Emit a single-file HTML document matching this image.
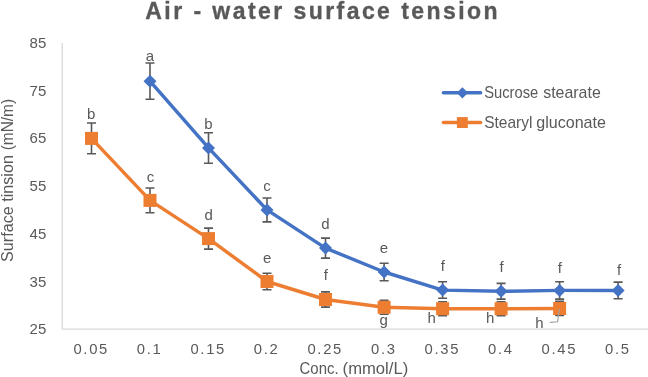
<!DOCTYPE html><html><head><meta charset="utf-8"><title>chart</title>
<style>html,body{margin:0;padding:0;background:#fff;}svg{display:block;will-change:transform;opacity:0.999}text{font-family:"Liberation Sans",sans-serif;fill:#595959}</style></head><body>
<svg width="648" height="377" viewBox="0 0 648 377">
<rect width="648" height="377" fill="#fff"/>
<path d="M62.2 43 V329.2 H648" fill="none" stroke="#D9D9D9" stroke-width="1.3"/>
<text x="145.3" y="18.5" font-size="23" font-weight="bold" letter-spacing="2.44" stroke="#595959" stroke-width="0.35">Air - water surface tension</text>
<text x="46.3" y="48.0" text-anchor="end" font-size="15">85</text>
<text x="46.3" y="95.7" text-anchor="end" font-size="15">75</text>
<text x="46.3" y="143.4" text-anchor="end" font-size="15">65</text>
<text x="46.3" y="191.1" text-anchor="end" font-size="15">55</text>
<text x="46.3" y="238.8" text-anchor="end" font-size="15">45</text>
<text x="46.3" y="286.5" text-anchor="end" font-size="15">35</text>
<text x="46.3" y="334.2" text-anchor="end" font-size="15">25</text>
<text x="91.2" y="354" text-anchor="middle" font-size="14.8" letter-spacing="1.7">0.05</text>
<text x="149.7" y="354" text-anchor="middle" font-size="14.8" letter-spacing="1.7">0.1</text>
<text x="208.2" y="354" text-anchor="middle" font-size="14.8" letter-spacing="1.7">0.15</text>
<text x="266.7" y="354" text-anchor="middle" font-size="14.8" letter-spacing="1.7">0.2</text>
<text x="325.2" y="354" text-anchor="middle" font-size="14.8" letter-spacing="1.7">0.25</text>
<text x="383.8" y="354" text-anchor="middle" font-size="14.8" letter-spacing="1.7">0.3</text>
<text x="442.3" y="354" text-anchor="middle" font-size="14.8" letter-spacing="1.7">0.35</text>
<text x="500.8" y="354" text-anchor="middle" font-size="14.8" letter-spacing="1.7">0.4</text>
<text x="559.3" y="354" text-anchor="middle" font-size="14.8" letter-spacing="1.7">0.45</text>
<text x="617.8" y="354" text-anchor="middle" font-size="14.8" letter-spacing="1.7">0.5</text>
<text x="299.6" y="373.5" font-size="15.8" textLength="39" lengthAdjust="spacingAndGlyphs">Conc.</text><text x="342.6" y="373.5" font-size="15.8" textLength="65.6" lengthAdjust="spacingAndGlyphs">(mmol/L)</text>
<g transform="translate(13.3,261.9) rotate(-90)"><text x="0" y="0" font-size="16" textLength="106.8" lengthAdjust="spacingAndGlyphs">Surface tinsion</text><text x="111.6" y="0" font-size="16" textLength="51.4" lengthAdjust="spacingAndGlyphs">(mN/m)</text></g>
<polyline points="150.0,81.2 208.5,147.9 267.0,209.9 325.5,248.1 384.1,272.0 442.6,290.1 501.1,291.3 559.6,290.4 618.1,290.4" fill="none" stroke="#4472C4" stroke-width="3.45" stroke-linejoin="round" stroke-linecap="round"/>
<polyline points="91.5,138.4 150.0,200.4 208.5,238.6 267.0,281.5 325.5,299.5 384.1,307.3 442.6,308.7 501.1,308.7 559.6,308.5" fill="none" stroke="#ED7D31" stroke-width="3.45" stroke-linejoin="round" stroke-linecap="round"/>
<path d="M150.0 63.0 V99.3 M145.5 63.0 H154.5 M145.5 99.3 H154.5" stroke="#595959" stroke-width="1.6" fill="none"/>
<path d="M208.5 132.7 V163.2 M204.0 132.7 H213.0 M204.0 163.2 H213.0" stroke="#595959" stroke-width="1.6" fill="none"/>
<path d="M267.0 198.0 V221.9 M262.5 198.0 H271.5 M262.5 221.9 H271.5" stroke="#595959" stroke-width="1.6" fill="none"/>
<path d="M325.5 238.1 V258.1 M321.0 238.1 H330.0 M321.0 258.1 H330.0" stroke="#595959" stroke-width="1.6" fill="none"/>
<path d="M384.1 263.2 V280.7 M379.6 263.2 H388.6 M379.6 280.7 H388.6" stroke="#595959" stroke-width="1.6" fill="none"/>
<path d="M442.6 281.8 V298.3 M438.1 281.8 H447.1 M438.1 298.3 H447.1" stroke="#595959" stroke-width="1.6" fill="none"/>
<path d="M501.1 283.4 V299.1 M496.6 283.4 H505.6 M496.6 299.1 H505.6" stroke="#595959" stroke-width="1.6" fill="none"/>
<path d="M559.6 281.7 V299.1 M555.1 281.7 H564.1 M555.1 299.1 H564.1" stroke="#595959" stroke-width="1.6" fill="none"/>
<path d="M618.1 282.1 V298.8 M613.6 282.1 H622.6 M613.6 298.8 H622.6" stroke="#595959" stroke-width="1.6" fill="none"/>
<path d="M91.5 123.0 V153.8 M87.0 123.0 H96.0 M87.0 153.8 H96.0" stroke="#595959" stroke-width="1.6" fill="none"/>
<path d="M150.0 188.0 V212.8 M145.5 188.0 H154.5 M145.5 212.8 H154.5" stroke="#595959" stroke-width="1.6" fill="none"/>
<path d="M208.5 228.1 V249.1 M204.0 228.1 H213.0 M204.0 249.1 H213.0" stroke="#595959" stroke-width="1.6" fill="none"/>
<path d="M267.0 273.2 V289.8 M262.5 273.2 H271.5 M262.5 289.8 H271.5" stroke="#595959" stroke-width="1.6" fill="none"/>
<path d="M325.5 291.9 V307.1 M321.0 291.9 H330.0 M321.0 307.1 H330.0" stroke="#595959" stroke-width="1.6" fill="none"/>
<path d="M384.1 300.2 V314.3 M379.6 300.2 H388.6 M379.6 314.3 H388.6" stroke="#595959" stroke-width="1.6" fill="none"/>
<path d="M442.6 301.7 V315.7 M438.1 301.7 H447.1 M438.1 315.7 H447.1" stroke="#595959" stroke-width="1.6" fill="none"/>
<path d="M501.1 301.7 V315.7 M496.6 301.7 H505.6 M496.6 315.7 H505.6" stroke="#595959" stroke-width="1.6" fill="none"/>
<path d="M559.6 301.4 V315.5 M555.1 301.4 H564.1 M555.1 315.5 H564.1" stroke="#595959" stroke-width="1.6" fill="none"/>
<path d="M150.0 74.7 L156.5 81.2 L150.0 87.7 L143.5 81.2 Z" fill="#4472C4"/>
<path d="M208.5 141.4 L215.0 147.9 L208.5 154.4 L202.0 147.9 Z" fill="#4472C4"/>
<path d="M267.0 203.4 L273.5 209.9 L267.0 216.4 L260.5 209.9 Z" fill="#4472C4"/>
<path d="M325.5 241.6 L332.0 248.1 L325.5 254.6 L319.0 248.1 Z" fill="#4472C4"/>
<path d="M384.1 265.5 L390.6 272.0 L384.1 278.5 L377.6 272.0 Z" fill="#4472C4"/>
<path d="M442.6 283.6 L449.1 290.1 L442.6 296.6 L436.1 290.1 Z" fill="#4472C4"/>
<path d="M501.1 284.8 L507.6 291.3 L501.1 297.8 L494.6 291.3 Z" fill="#4472C4"/>
<path d="M559.6 283.9 L566.1 290.4 L559.6 296.9 L553.1 290.4 Z" fill="#4472C4"/>
<path d="M618.1 283.9 L624.6 290.4 L618.1 296.9 L611.6 290.4 Z" fill="#4472C4"/>
<rect x="85.0" y="131.9" width="13" height="13" fill="#ED7D31"/>
<rect x="143.5" y="193.9" width="13" height="13" fill="#ED7D31"/>
<rect x="202.0" y="232.1" width="13" height="13" fill="#ED7D31"/>
<rect x="260.5" y="275.0" width="13" height="13" fill="#ED7D31"/>
<rect x="319.0" y="293.0" width="13" height="13" fill="#ED7D31"/>
<rect x="377.6" y="300.8" width="13" height="13" fill="#ED7D31"/>
<rect x="436.1" y="302.2" width="13" height="13" fill="#ED7D31"/>
<rect x="494.6" y="302.2" width="13" height="13" fill="#ED7D31"/>
<rect x="553.1" y="302.0" width="13" height="13" fill="#ED7D31"/>
<text x="150.00" y="60.50" text-anchor="middle" font-size="15" fill="#888888">a</text>
<text x="208.50" y="128.60" text-anchor="middle" font-size="15" fill="#888888">b</text>
<text x="267.00" y="191.25" text-anchor="middle" font-size="15" fill="#888888">c</text>
<text x="325.50" y="228.75" text-anchor="middle" font-size="15" fill="#888888">d</text>
<text x="384.00" y="252.50" text-anchor="middle" font-size="15" fill="#888888">e</text>
<text x="442.75" y="270.50" text-anchor="middle" font-size="15" fill="#888888">f</text>
<text x="501.50" y="271.75" text-anchor="middle" font-size="15" fill="#888888">f</text>
<text x="559.90" y="273.00" text-anchor="middle" font-size="15" fill="#888888">f</text>
<text x="619.20" y="274.90" text-anchor="middle" font-size="15" fill="#888888">f</text>
<text x="91.25" y="119.00" text-anchor="middle" font-size="15" fill="#888888">b</text>
<text x="150.40" y="181.75" text-anchor="middle" font-size="15" fill="#888888">c</text>
<text x="208.75" y="219.75" text-anchor="middle" font-size="15" fill="#888888">d</text>
<text x="267.10" y="262.50" text-anchor="middle" font-size="15" fill="#888888">e</text>
<text x="325.90" y="280.00" text-anchor="middle" font-size="15" fill="#888888">f</text>
<text x="383.75" y="325.00" text-anchor="middle" font-size="15" fill="#888888">g</text>
<text x="431.70" y="323.25" text-anchor="middle" font-size="15" fill="#888888">h</text>
<text x="490.10" y="323.25" text-anchor="middle" font-size="15" fill="#888888">h</text>
<text x="539.40" y="327.90" text-anchor="middle" font-size="15" fill="#888888">h</text>
<path d="M549.9 322.3 L557.6 321.8 L559.5 309" fill="none" stroke="#A0A0A0" stroke-width="1.2"/>
<path d="M443.4 92.8 H480.6" stroke="#4472C4" stroke-width="3.5" stroke-linecap="round"/>
<path d="M462.4 87.2 l5.6 5.6 l-5.6 5.6 l-5.6 -5.6 Z" fill="#4472C4"/>
<path d="M443.4 122.6 H480.6" stroke="#ED7D31" stroke-width="3.5" stroke-linecap="round"/>
<rect x="456.9" y="117.1" width="10.9" height="10.9" fill="#ED7D31"/>
<text y="98.1" font-size="15.9"><tspan x="484.2" textLength="54" lengthAdjust="spacingAndGlyphs">Sucrose</tspan><tspan x="543.2" textLength="57.6" lengthAdjust="spacingAndGlyphs">stearate</tspan></text>
<text y="127.7" font-size="15.9"><tspan x="484.2" textLength="48.2" lengthAdjust="spacingAndGlyphs">Stearyl</tspan><tspan x="536.2" textLength="69.8" lengthAdjust="spacingAndGlyphs">gluconate</tspan></text>
</svg></body></html>
